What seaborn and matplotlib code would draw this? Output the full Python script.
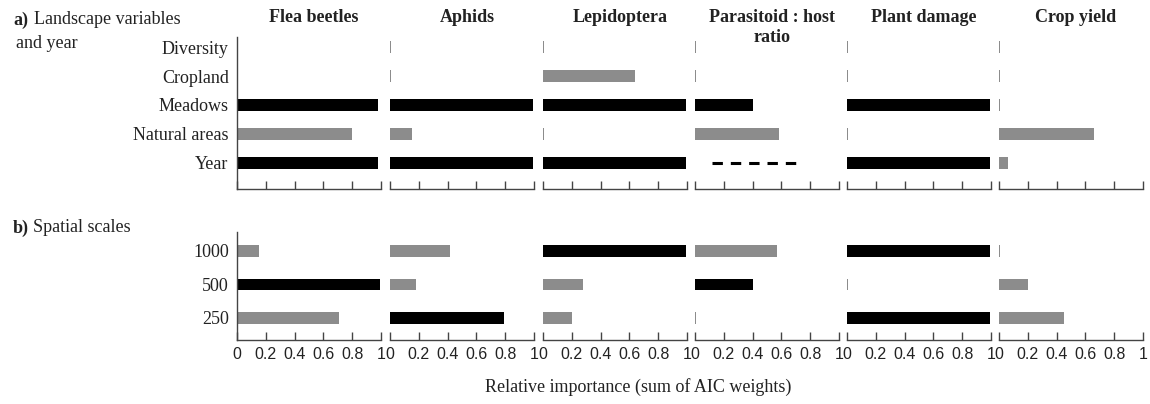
import numpy as np
import pandas as pd
import matplotlib
matplotlib.use("Agg")
import matplotlib.pyplot as plt
import seaborn as sns

# ---- data: relative importance (sum of AIC weights) ----
responses = ["Flea beetles", "Aphids", "Lepidoptera",
             "Parasitoid : host\nratio", "Plant damage", "Crop yield"]

landscape_vars = ["Diversity", "Cropland", "Meadows", "Natural areas", "Year"]
flea_a = [0.01, 0.01, 0.98, 0.80, 0.98]
aphid_a = [0.01, 0.01, 0.99, 0.15, 0.99]
lepi_a = [0.01, 0.64, 0.99, 0.01, 0.99]
para_a = [0.01, 0.01, 0.40, 0.58, 0.0]
damage_a = [0.01, 0.01, 0.99, 0.01, 0.99]
yield_a = [0.01, 0.01, 0.01, 0.66, 0.06]
tone_a = [
    ["light", "light", "dark", "light", "dark"],
    ["light", "light", "dark", "light", "dark"],
    ["light", "light", "dark", "light", "dark"],
    ["light", "light", "dark", "light", "light"],
    ["light", "light", "dark", "light", "dark"],
    ["light", "light", "light", "light", "light"],
]
# year effect for the parasitoid:host ratio shown as a dashed span
para_year_span = [0.12, 0.72]

scales = ["1000", "500", "250"]
flea_b = [0.15, 0.99, 0.71]
aphid_b = [0.42, 0.18, 0.79]
lepi_b = [0.99, 0.28, 0.20]
para_b = [0.57, 0.40, 0.01]
damage_b = [0.99, 0.01, 0.99]
yield_b = [0.01, 0.20, 0.45]
tone_b = [
    ["light", "dark", "light"],
    ["light", "light", "dark"],
    ["dark", "light", "light"],
    ["light", "dark", "light"],
    ["dark", "light", "dark"],
    ["light", "light", "light"],
]

xticks = [0, 0.2, 0.4, 0.6, 0.8, 1]
xticklabels = ["0", "0.2", "0.4", "0.6", "0.8", "1"]

values_a = [flea_a, aphid_a, lepi_a, para_a, damage_a, yield_a]
values_b = [flea_b, aphid_b, lepi_b, para_b, damage_b, yield_b]

# ---- styling ----
sns.set_style("white")
plt.rcParams["font.family"] = ["Liberation Serif", "DejaVu Serif"]
palette = {"dark": "#000000", "light": "#8c8c8c"}
axis_color = "#444444"

W, H = 1150, 404
fig = plt.figure(figsize=(W / 100, H / 100), dpi=100)
fig.patch.set_facecolor("white")

lefts = [237, 390, 543, 695, 847, 999]
panel_w = 144

def add_ax(left_px, top_px, bottom_px):
    return fig.add_axes([left_px / W, 1 - bottom_px / H,
                         panel_w / W, (bottom_px - top_px) / H])

def style_ax(ax, first, show_labels):
    ax.set_xlim(0, 1)
    ax.set_xticks(xticks)
    if show_labels:
        ax.set_xticklabels(xticklabels, fontfamily="Liberation Sans",
                           fontsize=11.5, color="#222222")
    else:
        ax.set_xticklabels([])
    ax.tick_params(axis="x", direction="in", length=5.5, width=1,
                   color=axis_color, pad=5, bottom=True)
    ax.tick_params(axis="y", length=0, pad=6)
    for side in ["top", "right"]:
        ax.spines[side].set_visible(False)
    ax.spines["bottom"].set_color(axis_color)
    ax.spines["bottom"].set_linewidth(1)
    if first:
        ax.spines["left"].set_color(axis_color)
        ax.spines["left"].set_linewidth(1)
        for lab in ax.get_yticklabels():
            lab.set_fontsize(13)
            lab.set_color("#222222")
    else:
        ax.spines["left"].set_visible(False)
        ax.set_yticklabels([])
    ax.set_xlabel("")
    ax.set_ylabel("")
    ax.set_facecolor("none")

for i in range(6):
    # panel a: landscape variables and year
    ax = add_ax(lefts[i], 37, 189)
    df = pd.DataFrame({"variable": landscape_vars, "weight": values_a[i],
                       "tone": tone_a[i]})
    if i == 3:
        df.loc[df["variable"] == "Year", "weight"] = np.nan
    sns.barplot(data=df, y="variable", x="weight", hue="tone",
                palette=palette, order=landscape_vars, dodge=False,
                width=0.4, orient="h", legend=False, ax=ax,
                edgecolor="none", saturation=1)
    if i == 3:
        ax.hlines(landscape_vars.index("Year"), para_year_span[0],
                  para_year_span[1], colors="black", linewidth=2.2,
                  linestyles=(0, (3.4, 2.6)))
    ax.set_ylim(4.897, -0.345)
    style_ax(ax, i == 0, False)

    # panel b: spatial scales
    ax = add_ax(lefts[i], 232, 340)
    df = pd.DataFrame({"scale": scales, "weight": values_b[i],
                       "tone": tone_b[i]})
    sns.barplot(data=df, y="scale", x="weight", hue="tone",
                palette=palette, order=scales, dodge=False,
                width=0.35, orient="h", legend=False, ax=ax,
                edgecolor="none", saturation=1)
    ax.set_ylim(2.657, -0.567)
    style_ax(ax, i == 0, True)

    # column heading
    fig.text((lefts[i] + panel_w / 2 + 5) / W, 1 - 9 / H, responses[i],
             ha="center", va="top", fontsize=13, fontweight="bold",
             linespacing=1.25, color="#222222")

# panel labels
txt = dict(fontsize=13, color="#222222", va="center")
fig.text(13 / W, 1 - 20 / H, "a)", fontweight="bold", **txt)
fig.text(34 / W, 1 - 20 / H, "Landscape variables", **txt)
fig.text(16 / W, 1 - 44 / H, "and year", **txt)
fig.text(13 / W, 1 - 228 / H, "b)", fontweight="bold", **txt)
fig.text(33 / W, 1 - 228 / H, "Spatial scales", **txt)

fig.text(638 / W, 1 - 387 / H, "Relative importance (sum of AIC weights)",
         ha="center", va="center", fontsize=13, color="#222222")

fig.savefig("out.png", dpi=100, facecolor="white")
